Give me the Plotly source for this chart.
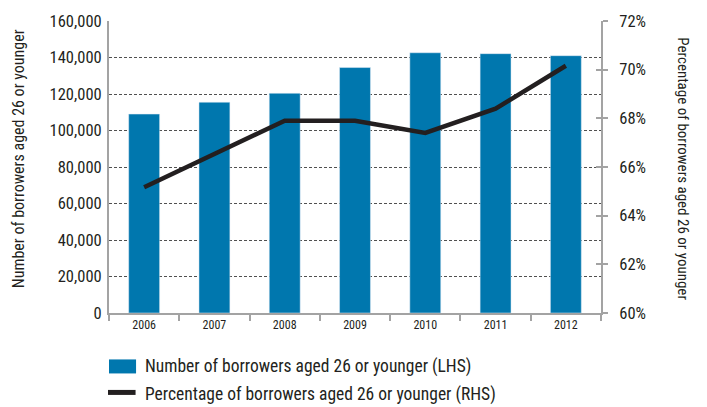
import plotly.graph_objects as go

years = ["2006", "2007", "2008", "2009", "2010", "2011", "2012"]
borrowers = [109000, 115500, 120400, 134500, 142600, 142100, 141000]
pct_borrowers = [65.17, 66.55, 67.9, 67.9, 67.4, 68.4, 70.16]

left_ticks = list(range(0, 160001, 20000))
left_tick_text = [f"{v:,}" for v in left_ticks]
right_ticks = list(range(60, 73, 2))
right_tick_text = [f"{v}%" for v in right_ticks]

bar_name = "Number of borrowers aged 26 or younger (LHS)"
line_name = "Percentage of borrowers aged 26 or younger (RHS)"
left_title = "Number of borrowers aged 26 or younger"
right_title = "Percentage of borrowers aged 26 or younger"

FONT = "Roboto Condensed, DejaVu Sans Condensed, sans-serif"
BLUE = "#0077AE"
DARK = "#231F20"
AXIS = "#A3A3A3"

fig = go.Figure()
fig.add_trace(go.Bar(x=years, y=borrowers, name=bar_name, marker_color=BLUE,
                     yaxis="y", showlegend=False))
fig.add_trace(go.Scatter(x=years, y=pct_borrowers, name=line_name, mode="lines",
                         line=dict(color=DARK, width=4.5), yaxis="y2",
                         showlegend=False))
# invisible trace so the inner tick marks on the right axis get drawn
fig.add_trace(go.Scatter(x=years, y=pct_borrowers, mode="lines",
                         line=dict(width=0), yaxis="y3", hoverinfo="skip",
                         showlegend=False))

fig.update_layout(
    width=707, height=407,
    margin=dict(l=109, r=106, t=18, b=94),
    paper_bgcolor="white", plot_bgcolor="white",
    font=dict(family=FONT, size=15, color=DARK),
    bargap=0.56,
    xaxis=dict(
        showline=True, linecolor=AXIS, linewidth=2,
        ticks="outside", tickson="boundaries", ticklen=6, tickwidth=2,
        tickcolor=AXIS, showgrid=False, tickfont=dict(size=12),
    ),
    yaxis=dict(
        range=[0, 160000], tickvals=left_ticks, ticktext=left_tick_text,
        showline=True, linecolor=AXIS, linewidth=2, ticks="",
        showgrid=True, gridcolor="#505050", griddash="3px,2px", gridwidth=1,
        zeroline=False, tickfont=dict(size=16.5), ticklabelstandoff=2,
    ),
    yaxis2=dict(
        range=[60, 72], tickvals=right_ticks, ticktext=right_tick_text,
        overlaying="y", side="right", showline=True, linecolor=AXIS,
        linewidth=2, ticks="outside", ticklen=5, tickwidth=2, tickcolor=AXIS,
        showgrid=False, zeroline=False, tickfont=dict(size=16.5),
        ticklabelstandoff=8,
    ),
    yaxis3=dict(
        range=[60, 72], tickvals=right_ticks, overlaying="y", side="right",
        showticklabels=False, ticks="inside", ticklen=5, tickwidth=2,
        tickcolor=AXIS, showline=False, showgrid=False, zeroline=False,
    ),
    annotations=[
        dict(text=left_title, textangle=-90,
             xref="paper", yref="paper", x=-0.185, y=0.53, xanchor="center",
             yanchor="middle", showarrow=False, font=dict(size=16)),
        dict(text=right_title, textangle=90,
             xref="paper", yref="paper", x=1.165, y=0.495, xanchor="center",
             yanchor="middle", showarrow=False, font=dict(size=15)),
        dict(text=bar_name, xref="paper", yref="paper", x=0.069, y=-0.183,
             xanchor="left", yanchor="middle", showarrow=False,
             font=dict(size=17.5)),
        dict(text=line_name, xref="paper", yref="paper", x=0.069, y=-0.279,
             xanchor="left", yanchor="middle", showarrow=False,
             font=dict(size=17.5)),
    ],
    shapes=[
        dict(type="rect", xref="paper", yref="paper", x0=0.0, x1=0.055,
             y0=-0.207, y1=-0.159, fillcolor=BLUE, line=dict(width=0)),
        dict(type="line", xref="paper", yref="paper", x0=-0.002, x1=0.054,
             y0=-0.272, y1=-0.272, line=dict(color=DARK, width=5)),
    ],
)

fig.write_html("out.html")
